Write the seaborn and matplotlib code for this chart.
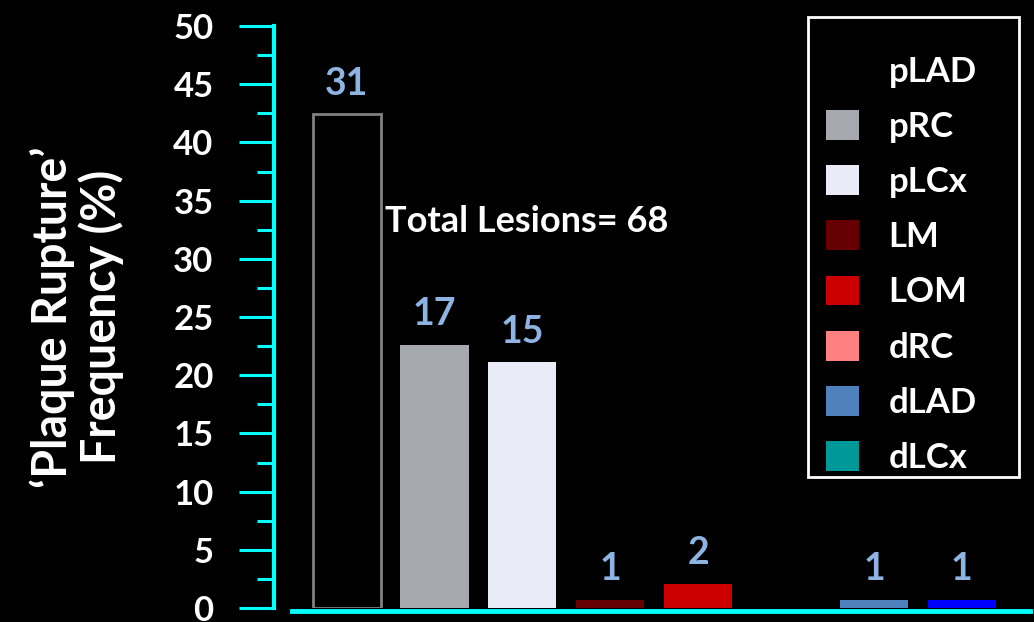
import matplotlib
matplotlib.use("Agg")
import matplotlib.pyplot as plt
import seaborn as sns
import pandas as pd
from matplotlib.patches import Patch, Rectangle
from matplotlib.ticker import MultipleLocator

# ---- data ----
categories = ["pLAD", "pRC", "pLCx", "LM", "LOM", "dRC", "dLAD", "dLCx"]
values = [42.4, 22.6, 21.1, 0.7, 2.1, 0.0, 0.7, 0.7]
counts = ["31", "17", "15", "1", "2", "", "1", "1"]
bar_colors = ["#000000", "#A6A8AF", "#E9ECF7", "#660000", "#CC0000", "#FF8080", "#4F81BD", "#0000FF"]
legend_colors = ["#000000", "#A6A8AF", "#E9ECF7", "#660000", "#CC0000", "#FF8080", "#4F81BD", "#009999"]
y_ticks = [0, 5, 10, 15, 20, 25, 30, 35, 40, 45, 50]
total_text = "Total Lesions= 68"
ylabel_text = "\u2018Plaque Rupture\u2019\nFrequency (%)"

sns.set_style("dark")
plt.rcParams["font.family"] = ["Lato", "DejaVu Sans"]

CYAN = "#00FFFF"
VALUE_BLUE = "#8DB4E2"

fig = plt.figure(figsize=(10.34, 6.22), dpi=100, facecolor="black")
ax = fig.add_axes([292 / 1034, 14 / 622, 738 / 1034, 582 / 622])
ax.set_facecolor("black")

df = pd.DataFrame({"cat": categories, "val": values})
sns.barplot(data=df, x="cat", y="val", hue="cat", order=categories, hue_order=categories,
            palette=dict(zip(categories, bar_colors)), width=0.774, legend=False,
            saturation=1, ax=ax, linewidth=0)

for i, p in enumerate(ax.patches):
    if i == 0:
        p.set_edgecolor("#808080")
        p.set_linewidth(2)
    else:
        p.set_linewidth(0)

ax.set_xlim(-0.621, 7.775)
ax.set_ylim(0, 50)
ax.set_yticks(y_ticks)
ax.set_yticklabels([str(t) for t in y_ticks])
ax.yaxis.set_minor_locator(MultipleLocator(2.5))
ax.tick_params(axis="y", which="major", left=True, length=25, width=2.2, color=CYAN, pad=18.5,
               direction="out", labelsize=25, labelcolor="white")
ax.tick_params(axis="y", which="minor", left=True, length=12.5, width=2.2, color=CYAN,
               direction="out")
ax.set_xticks([])
ax.set_xlabel("")
ax.grid(False)

for s in ["top", "right"]:
    ax.spines[s].set_visible(False)
ax.spines["left"].set_color(CYAN)
ax.spines["left"].set_linewidth(3)
ax.spines["left"].set_position(("outward", 13))
ax.spines["left"].set_bounds(0, 50)
ax.spines["bottom"].set_color(CYAN)
ax.spines["bottom"].set_linewidth(3.5)
ax.spines["bottom"].set_position(("outward", 2))

ax.set_ylabel(ylabel_text, fontsize=33.5, fontweight="bold", color="white", linespacing=1.1,
              va="center", ha="center")
ax.yaxis.set_label_coords(-0.292, 0.5)

# value labels
for i, (v, c) in enumerate(zip(values, counts)):
    if c:
        ax.annotate(c, xy=(i, v), xytext=(0, 10), textcoords="offset points",
                    ha="center", va="bottom", fontsize=27, fontweight="bold", color=VALUE_BLUE)

ax.text(2.05, 33.2, total_text, ha="center", va="center", fontsize=26, fontweight="bold",
        color="white")

# legend (frame drawn separately to match the original box padding)
handles = [Patch(facecolor=c, edgecolor="none") for c in legend_colors]
leg = ax.legend(handles, categories, loc="upper left", bbox_to_anchor=(826 / 1034, 1 - 55 / 622),
                bbox_transform=fig.transFigure, frameon=False,
                prop={"family": "Lato", "weight": "bold", "size": 25},
                handlelength=0.95, handleheight=0.95, handletextpad=0.85,
                labelspacing=0.64, borderpad=0, borderaxespad=0)
for t in leg.get_texts():
    t.set_color("white")
fig.patches.append(Rectangle((808 / 1034, (622 - 477) / 622), 211 / 1034, 460 / 622,
                             transform=fig.transFigure, fill=False, edgecolor="white",
                             linewidth=2, zorder=5))

fig.canvas.draw()
for lab in ax.get_yticklabels():
    lab.set_fontfamily("Lato")
    lab.set_fontweight("bold")
    lab.set_fontsize(25)
    lab.set_color("white")

fig.savefig("out.png", dpi=100, facecolor="black")
